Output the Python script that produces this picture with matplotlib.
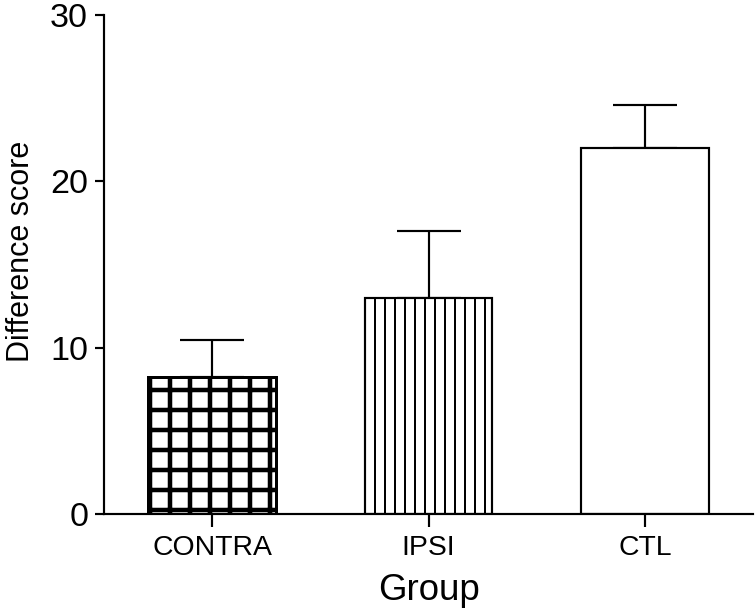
import matplotlib
matplotlib.use("Agg")
from matplotlib import pyplot as plt

groups = ["CONTRA", "IPSI", "CTL"]
means = [8.25, 13.0, 22.0]
sems = [2.2, 4.0, 2.6]
hatches = ["+", "||", ""]
hatch_widths = [2.7, 1.2, 1.2]
edge_widths = [1.8, 1.3, 1.3]

plt.rcParams["font.family"] = ["Liberation Sans", "DejaVu Sans"]

fig = plt.figure(figsize=(755 / 120, 612 / 120), dpi=120)
ax = fig.add_axes([104 / 755, 1 - 514 / 612, 649 / 755, 499 / 612])

x = list(range(len(groups)))
for i in x:
    plt.rcParams["hatch.linewidth"] = hatch_widths[i]
    bars = ax.bar(x[i], means[i], width=0.59, color="white", edgecolor="black",
                  linewidth=edge_widths[i], hatch=hatches[i], zorder=2)
    for b in bars:
        if hasattr(b, "set_hatch_linewidth"):
            b.set_hatch_linewidth(hatch_widths[i])

# only the upper half of the error bar
ax.errorbar(x, means, yerr=[[0] * len(sems), sems], fmt="none", ecolor="black",
            elinewidth=1.3, capsize=19, capthick=1.3, zorder=1)

ax.set_xlim(-0.5, 2.5)
ax.set_ylim(0, 30)
ax.set_yticks([0, 10, 20, 30])
ax.set_xticks(x)
ax.set_xticklabels(groups)

ax.spines["top"].set_visible(False)
ax.spines["right"].set_visible(False)
ax.spines["left"].set_linewidth(1.3)
ax.spines["bottom"].set_linewidth(1.3)

ax.tick_params(axis="y", labelsize=20.5, length=5.5, width=1.3, pad=4)
ax.tick_params(axis="x", labelsize=17, length=7.8, width=1.3, pad=5)

ax.set_ylabel("Difference score", fontsize=18.3)
ax.yaxis.set_label_coords(-0.105, 0.527)
ax.set_xlabel("Group", fontsize=22, labelpad=7)

fig.savefig("out.png", dpi=120)
